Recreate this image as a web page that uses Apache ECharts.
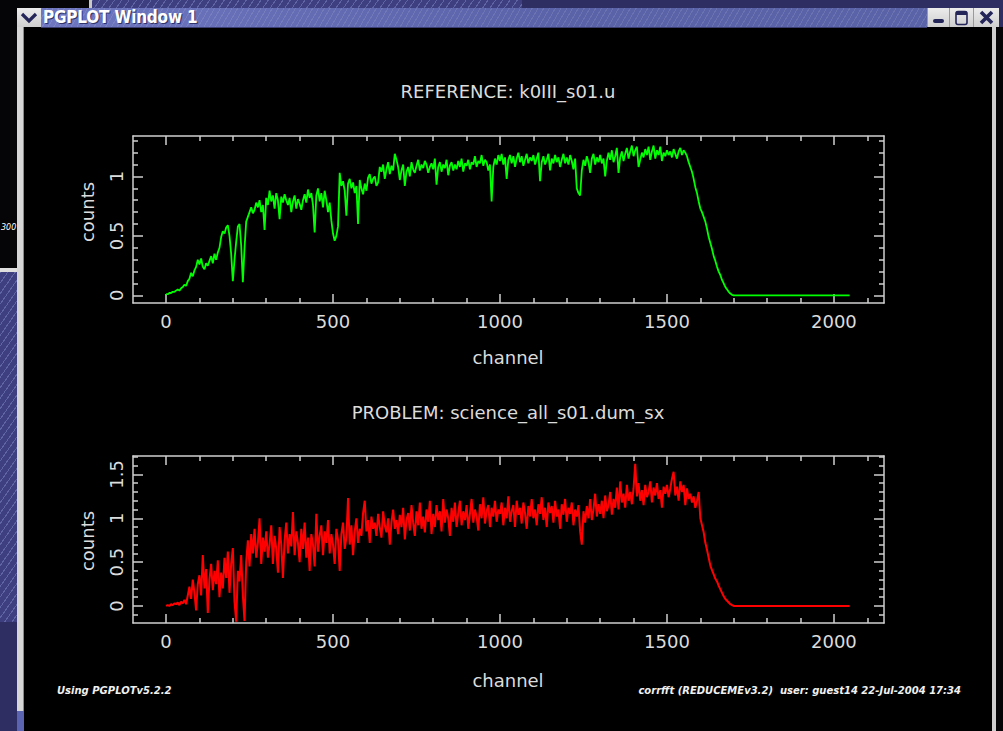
<!DOCTYPE html>
<html>
<head>
<meta charset="utf-8">
<title>PGPLOT Window 1</title>
<script src="https://cdn.jsdelivr.net/npm/echarts@6/dist/echarts.min.js"></script>
<style>
  html, body { margin: 0; padding: 0; }
  body { width: 1003px; height: 731px; position: relative; overflow: hidden; background: #2f2e63; font-family: "DejaVu Sans", sans-serif; }
  .abs { position: absolute; }
  .hatch { background-color: #3d3f80; background-image: repeating-linear-gradient(125deg, rgba(160,170,230,0.35) 0 1px, transparent 1px 6px); }
  #titlebar { left: 41px; top: 8px; width: 886px; height: 19px;
    background-image: repeating-linear-gradient(120deg, rgba(255,255,255,0.10) 0 1px, transparent 1px 5px), linear-gradient(90deg, #6d76bf, #5a62a8 60%, #5b63a8);
    border-bottom: 1px solid #3a3e70; }
  #titletext { left: 43px; top: 7px; color: #fff; font: bold 17px "DejaVu Sans Condensed", "DejaVu Sans", sans-serif; letter-spacing: -0.2px; text-shadow: 1px 1px 0 #30346a; white-space: nowrap; }
  .btn { top: 8px; height: 19px; background: linear-gradient(#ececec, #cfcfcf); border-left: 1px solid #9a9a9a; }
  #chart { left: 0; top: 0; width: 1003px; height: 731px; }
</style>
</head>
<body>
<!-- desktop behind the window -->
<div class="abs" style="left:0;top:0;width:89px;height:8px;background:#050508"></div>
<div class="abs" style="left:89px;top:0;width:3px;height:8px;background:#c9c9c9"></div>
<div class="abs hatch" style="left:92px;top:0;width:430px;height:8px"></div>
<div class="abs" style="left:0;top:8px;width:17px;height:260px;background:#050508;overflow:hidden">
  <div class="abs" style="left:1px;top:215px;color:#fff;font:italic 8px 'DejaVu Sans',sans-serif;white-space:nowrap">300</div>
</div>
<div class="abs" style="left:0;top:268px;width:17px;height:4px;background:#dedede"></div>
<div class="abs hatch" style="left:0;top:272px;width:17px;height:350px"></div>

<!-- window frame -->
<div class="abs" style="left:17px;top:27px;width:6px;height:684px;background:#d6d6d6;border-right:1px solid #8a8a8a"></div>
<div class="abs" style="left:17px;top:711px;width:7px;height:20px;background:#5a64b0"></div>
<div class="abs" style="left:24px;top:27px;width:968px;height:704px;background:#000"></div>
<div class="abs" style="left:992px;top:27px;width:4px;height:704px;background:#cfcfcf"></div>
<div class="abs" style="left:996px;top:27px;width:7px;height:704px;background:#050508"></div>

<!-- title bar -->
<div class="abs btn" style="left:17px;width:24px;border-left:none;border-right:1px solid #9a9a9a">
  <svg width="24" height="19"><path d="M5 6 L12 13 L19 6" stroke="#24265a" stroke-width="3.2" fill="none"/></svg>
</div>
<div id="titlebar" class="abs"></div>
<div id="titletext" class="abs">PGPLOT Window 1</div>
<div class="abs btn" style="left:927px;width:21px">
  <svg width="21" height="19"><rect x="5" y="11" width="11" height="4" rx="2" fill="#24265a"/></svg>
</div>
<div class="abs btn" style="left:949px;width:23px">
  <svg width="23" height="19"><rect x="6" y="3.5" width="11" height="13" rx="2" stroke="#24265a" stroke-width="1.6" fill="none"/><rect x="6" y="3.5" width="11" height="3.5" fill="#24265a"/></svg>
</div>
<div class="abs btn" style="left:973px;width:25px">
  <svg width="25" height="19"><path d="M7 4 L18 15 M18 4 L7 15" stroke="#24265a" stroke-width="3.6"/></svg>
</div>

<div id="chart" class="abs"></div>

<script>
// Spectra sampled every 5 channels from channel 0 to 1700; both are flat zero beyond.
const channelStep = 5;
const tailChannel = 2047;
const tailCount = 0;

// REFERENCE: k0III_s01.u
const refCounts = [
  0.01,0.01,0.02,0.02,0.03,0.03,0.04,0.05,0.04,0.06,0.07,0.09,0.08,0.12,0.14,0.19,0.16,0.21,0.24,0.30,
  0.26,0.31,0.24,0.22,0.27,0.25,0.29,0.33,0.27,0.35,0.30,0.36,0.40,0.49,0.54,0.52,0.57,0.59,0.50,0.35,
  0.12,0.30,0.45,0.58,0.60,0.42,0.11,0.40,0.62,0.66,0.70,0.74,0.69,0.72,0.78,0.74,0.80,0.70,0.76,0.55,
  0.82,0.76,0.88,0.79,0.84,0.73,0.86,0.80,0.64,0.83,0.78,0.85,0.80,0.76,0.82,0.70,0.79,0.84,0.73,0.81,
  0.77,0.72,0.80,0.85,0.78,0.89,0.82,0.86,0.76,0.53,0.84,0.90,0.79,0.86,0.74,0.88,0.80,0.70,0.78,0.63,
  0.52,0.46,0.50,0.58,1.03,0.92,0.96,0.88,0.67,0.94,0.98,0.90,0.95,0.86,0.92,0.60,0.97,0.90,0.85,0.94,
  0.88,0.99,1.02,0.94,0.98,1.00,0.92,0.95,1.08,1.04,1.10,0.98,1.06,1.12,1.02,1.09,1.05,1.19,1.14,1.08,
  0.97,1.05,1.10,0.92,1.04,1.08,1.00,1.12,1.06,1.03,1.09,1.14,1.05,1.10,1.07,1.13,1.10,1.03,1.08,1.11,
  1.06,1.15,0.93,1.08,1.12,1.04,1.10,1.07,1.14,1.01,1.09,1.12,1.05,1.10,1.06,1.13,1.08,1.15,1.04,1.11,
  1.09,1.14,1.06,1.12,1.10,1.17,1.08,1.13,1.11,1.18,1.09,1.14,1.12,1.05,1.10,0.79,1.08,1.15,1.10,1.18,
  1.13,1.19,1.10,1.16,0.98,1.14,1.18,1.11,1.17,1.08,1.15,1.20,1.12,1.17,1.09,1.14,1.19,1.11,1.16,1.13,
  1.18,1.10,1.15,1.20,0.96,1.12,1.17,1.10,1.14,1.19,1.05,1.15,1.11,1.18,1.12,1.16,1.08,1.14,1.19,1.11,
  1.16,1.10,1.18,1.13,1.06,1.15,0.90,0.86,0.84,1.05,1.14,1.09,1.17,1.12,1.03,1.15,1.19,1.10,1.16,1.12,
  1.18,1.11,1.15,1.00,1.13,1.20,1.14,1.22,1.12,1.17,1.24,1.03,1.16,1.21,1.13,1.19,1.24,1.15,1.21,1.26,
  1.17,1.22,1.25,1.08,1.14,1.20,1.16,1.23,1.18,1.25,1.14,1.21,1.26,1.15,1.22,1.18,1.25,1.13,1.20,1.17,
  1.22,1.18,1.21,1.16,1.23,1.19,1.15,1.21,1.24,1.18,1.22,1.20,1.17,1.12,1.08,1.04,0.98,0.91,0.86,0.79,
  0.73,0.70,0.66,0.62,0.56,0.49,0.44,0.39,0.33,0.29,0.24,0.20,0.17,0.13,0.10,0.07,0.05,0.03,0.015,0.005,
  0
];

// PROBLEM: science_all_s01.dum_sx
const probCounts = [
  0.00,0.01,0.00,0.02,0.01,0.03,0.02,0.04,0.01,0.05,0.03,0.07,0.02,0.12,0.22,0.08,0.30,0.15,-0.05,0.25,
  0.35,0.12,0.58,0.20,0.42,-0.08,0.30,0.48,0.18,0.40,0.25,0.52,0.10,0.38,0.20,0.55,0.32,0.62,0.15,0.48,
  0.66,0.05,-0.18,0.40,0.28,0.58,0.12,-0.17,0.50,0.75,0.45,0.82,0.60,0.88,0.55,0.72,1.00,0.48,0.78,0.62,
  0.85,0.55,0.70,0.92,0.48,0.80,0.65,0.38,0.90,0.70,0.32,0.75,0.95,0.60,0.82,0.68,1.07,0.58,0.85,0.72,
  0.50,0.88,0.65,0.95,0.55,0.78,0.40,0.82,0.70,0.45,1.05,0.62,0.80,0.92,0.58,0.85,0.72,0.98,0.60,0.82,
  0.70,0.48,0.88,0.75,0.40,0.82,0.95,0.65,0.78,1.23,0.70,0.92,0.58,0.85,1.00,0.72,0.88,0.80,1.06,1.20,
  0.85,0.98,0.72,1.02,0.88,0.95,0.80,1.05,0.90,0.78,1.08,0.92,0.84,1.00,0.70,0.95,1.10,0.88,0.98,0.82,
  1.04,0.90,1.12,0.76,0.98,1.06,0.86,1.15,0.95,0.80,1.08,0.92,1.18,0.88,1.02,0.84,1.10,0.96,1.20,0.82,
  1.05,0.90,1.15,0.98,1.08,0.85,1.22,0.95,1.10,1.00,0.80,1.12,0.96,1.18,0.90,1.06,1.20,0.92,1.08,0.98,
  1.15,0.88,1.05,1.22,0.95,1.10,1.02,0.86,1.16,1.00,1.24,0.94,1.08,1.15,0.90,1.12,1.02,1.20,0.96,1.10,
  1.05,1.18,0.92,1.12,1.00,1.25,0.96,1.08,1.15,0.90,1.20,1.04,1.12,0.94,1.18,1.06,0.88,1.14,1.02,1.22,
  1.00,1.10,0.92,1.16,1.05,1.24,0.98,1.12,0.90,1.18,1.06,1.14,0.95,1.20,1.02,1.10,0.88,1.16,1.04,1.22,
  0.96,1.12,1.05,1.18,0.92,1.10,1.02,1.15,0.85,0.70,1.08,0.95,1.14,1.00,1.22,0.98,1.10,1.28,1.02,1.16,
  1.05,1.20,1.00,1.26,1.08,1.15,1.30,1.04,1.22,1.12,1.35,1.10,1.42,1.18,1.28,1.12,1.38,1.20,1.30,1.16,
  1.34,1.62,1.25,1.40,1.20,1.32,1.15,1.38,1.24,1.30,1.42,1.18,1.35,1.26,1.40,1.22,1.32,1.12,1.36,1.28,
  1.38,1.24,1.34,1.45,1.53,1.26,1.36,1.20,1.42,1.30,1.38,1.15,1.34,1.22,1.28,1.18,1.25,1.12,1.20,1.30,
  1.00,0.92,0.84,0.72,0.64,0.55,0.46,0.41,0.36,0.31,0.28,0.23,0.19,0.15,0.11,0.08,0.06,0.04,0.02,0.01,
  0
];

// Axis ticks and labels
const xMajorTicks = [0, 500, 1000, 1500, 2000];
const xMinorTicks = [-100, 100, 200, 300, 400, 600, 700, 800, 900, 1100, 1200, 1300, 1400, 1600, 1700, 1800, 1900, 2100];
const refMajorTicks = [0, 0.5, 1];
const refMinorTicks = [0.1, 0.2, 0.3, 0.4, 0.6, 0.7, 0.8, 0.9, 1.1, 1.2, 1.3];
const probMajorTicks = [0, 0.5, 1, 1.5];
const probMinorTicks = [-0.1, 0.1, 0.2, 0.3, 0.4, 0.6, 0.7, 0.8, 0.9, 1.1, 1.2, 1.3, 1.4, 1.6, 1.7];

const refTitle = 'REFERENCE: k0III_s01.u';
const probTitle = 'PROBLEM: science_all_s01.dum_sx';
const xName = 'channel';
const yName = 'counts';
const footLeft = 'Using PGPLOTv5.2.2';
const footRight = 'corrfft (REDUCEMEv3.2)  user: guest14 22-Jul-2004 17:34';

const X_RANGE = [-99, 2150];
const REF_RANGE = [-0.064, 1.34];
const PROB_RANGE = [-0.194, 1.71];

const FG = '#dcdcdc';
const FRAME = '#cfcfcf';
const FONT = '"DejaVu Sans", sans-serif';

function toPoints(vals) {
  const pts = vals.map((v, i) => [i * channelStep, v]);
  pts.push([tailChannel, tailCount]);
  return pts;
}

function xAxisSet(gridIndex) {
  const base = {
    type: 'value', gridIndex, min: X_RANGE[0], max: X_RANGE[1],
    splitLine: { show: false },
    axisLine: { show: true, onZero: false, lineStyle: { color: FRAME, width: 1.5 } }
  };
  const tick = (vals, len) => ({ show: true, inside: true, length: len, customValues: vals, lineStyle: { color: FRAME, width: 1.5 } });
  return [
    Object.assign({}, base, {
      position: 'bottom', axisTick: tick(xMajorTicks, 9),
      axisLabel: { show: true, customValues: xMajorTicks, margin: 9, color: FG, fontSize: 18, fontFamily: FONT,
        formatter: v => String(v) }
    }),
    Object.assign({}, base, { position: 'bottom', axisLine: { show: false, onZero: false }, axisTick: tick(xMinorTicks, 5), axisLabel: { show: false } }),
    Object.assign({}, base, { position: 'top', axisTick: tick(xMajorTicks, 9), axisLabel: { show: false } }),
    Object.assign({}, base, { position: 'top', axisLine: { show: false, onZero: false }, axisTick: tick(xMinorTicks, 5), axisLabel: { show: false } })
  ];
}

function yAxisSet(gridIndex, range, major, minor) {
  const base = {
    type: 'value', gridIndex, min: range[0], max: range[1],
    splitLine: { show: false },
    axisLine: { show: true, onZero: false, lineStyle: { color: FRAME, width: 1.5 } }
  };
  const tick = (vals, len) => ({ show: true, inside: true, length: len, customValues: vals, lineStyle: { color: FRAME, width: 1.5 } });
  return [
    Object.assign({}, base, {
      position: 'left', axisTick: tick(major, 10),
      axisLabel: { show: true, customValues: major, rotate: 90, margin: 8, color: FG, fontSize: 18, fontFamily: FONT,
        formatter: v => String(v) }
    }),
    Object.assign({}, base, { position: 'left', axisLine: { show: false, onZero: false }, axisTick: tick(minor, 5), axisLabel: { show: false } }),
    Object.assign({}, base, { position: 'right', axisTick: tick(major, 10), axisLabel: { show: false } }),
    Object.assign({}, base, { position: 'right', axisLine: { show: false, onZero: false }, axisTick: tick(minor, 5), axisLabel: { show: false } })
  ];
}

function label(text, x, y, size, extra) {
  return Object.assign({
    type: 'text', x, y, silent: true,
    style: { text, fill: FG, font: size + 'px ' + FONT, textAlign: 'center', textVerticalAlign: 'middle' }
  }, extra || {});
}

const chart = echarts.init(document.getElementById('chart'), null, { renderer: 'svg' });
chart.setOption({
  animation: false,
  backgroundColor: 'transparent',
  grid: [
    { left: 133, top: 136, width: 751, height: 167 },
    { left: 133, top: 456, width: 751, height: 167 }
  ],
  xAxis: xAxisSet(0).concat(xAxisSet(1)),
  yAxis: yAxisSet(0, REF_RANGE, refMajorTicks, refMinorTicks).concat(yAxisSet(1, PROB_RANGE, probMajorTicks, probMinorTicks)),
  series: [
    {
      type: 'line', xAxisIndex: 0, yAxisIndex: 0, data: toPoints(refCounts),
      showSymbol: false, symbol: 'none',
      lineStyle: { color: '#00ff00', width: 1.8 }
    },
    {
      type: 'line', xAxisIndex: 4, yAxisIndex: 4, data: toPoints(probCounts),
      showSymbol: false, symbol: 'none',
      lineStyle: { color: '#ff0000', width: 2 }
    }
  ],
  graphic: [
    label(refTitle, 508, 91, 18),
    label(probTitle, 508, 412, 18),
    label(xName, 508, 357, 18),
    label(xName, 508, 680, 18),
    label(yName, 87, 212, 18, { rotation: Math.PI / 2 }),
    label(yName, 87, 541, 18, { rotation: Math.PI / 2 }),
    {
      type: 'text', x: 57, y: 690, silent: true,
      style: { text: footLeft, fill: '#f0f0f0', font: 'italic bold 10px ' + FONT, textAlign: 'left', textVerticalAlign: 'middle' }
    },
    {
      type: 'text', x: 961, y: 690, silent: true,
      style: { text: footRight, fill: '#f0f0f0', font: 'italic bold 10px ' + FONT, textAlign: 'right', textVerticalAlign: 'middle' }
    }
  ]
});
</script>
</body>
</html>
